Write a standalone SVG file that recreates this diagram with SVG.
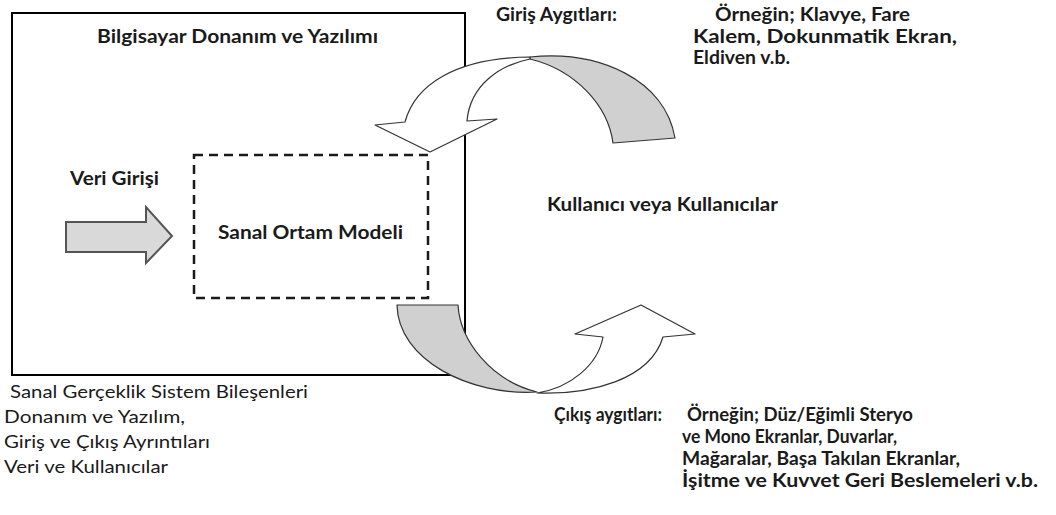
<svg xmlns="http://www.w3.org/2000/svg" width="1056" height="515" viewBox="0 0 1056 515">
<style>
text{font-family:Lato,"Open Sans","Liberation Sans",sans-serif;fill:#1a1a1a}
.b{font-weight:bold;font-size:19px}
.r{font-size:18px}
.box{fill:none;stroke:#000;stroke-width:2}
.dash{fill:none;stroke:#1a1a1a;stroke-width:2.5;stroke-dasharray:9 6}
.cw{fill:#fff;stroke:#333;stroke-width:1.2;stroke-linejoin:round}
.cg{fill:#d0d0d0;stroke:#333;stroke-width:1.2;stroke-linejoin:round}
.blk{fill:#d9d9d9;stroke:#555;stroke-width:2}
</style>
<rect width="1056" height="515" fill="#fff"/>
<g id="bilgisayar">
<rect class="box" x="12" y="13" width="453" height="362"/>
<text class="b" x="97" y="43" textLength="281" lengthAdjust="spacingAndGlyphs">Bilgisayar Donanım ve Yazılımı</text>
</g>
<g id="model">
<rect class="dash" x="194" y="155" width="234" height="143"/>
<text class="b" x="218" y="239" textLength="185" lengthAdjust="spacingAndGlyphs">Sanal Ortam Modeli</text>
</g>
<g id="veri">
<text class="b" x="70" y="185" textLength="89" lengthAdjust="spacingAndGlyphs">Veri Girişi</text>
</g>
<g id="kullanici">
<text class="b" x="547" y="211" textLength="231" lengthAdjust="spacingAndGlyphs">Kullanıcı veya Kullanıcılar</text>
</g>
<g id="giris">
<text class="b" x="496" y="21" textLength="121" lengthAdjust="spacingAndGlyphs">Giriş Aygıtları:</text>
<text class="b" x="715" y="21" textLength="195" lengthAdjust="spacingAndGlyphs">Örneğin; Klavye, Fare</text>
<text class="b" x="693" y="43" textLength="264" lengthAdjust="spacingAndGlyphs">Kalem, Dokunmatik Ekran,</text>
<text class="b" x="693" y="64" textLength="97" lengthAdjust="spacingAndGlyphs">Eldiven v.b.</text>
</g>
<g id="cikis">
<text class="b" x="554" y="421" textLength="108" lengthAdjust="spacingAndGlyphs">Çıkış aygıtları:</text>
<text class="b" x="687" y="421" textLength="226" lengthAdjust="spacingAndGlyphs">Örneğin; Düz/Eğimli Steryo</text>
<text class="b" x="682" y="443" textLength="215" lengthAdjust="spacingAndGlyphs">ve Mono Ekranlar, Duvarlar,</text>
<text class="b" x="682" y="465" textLength="278" lengthAdjust="spacingAndGlyphs">Mağaralar, Başa Takılan Ekranlar,</text>
<text class="b" x="682" y="487" textLength="356" lengthAdjust="spacingAndGlyphs">İşitme ve Kuvvet Geri Beslemeleri v.b.</text>
</g>
<g id="bilesenler">
<text class="r" x="10" y="398" textLength="298" lengthAdjust="spacingAndGlyphs">Sanal Gerçeklik Sistem Bileşenleri</text>
<text class="r" x="4" y="423" textLength="181" lengthAdjust="spacingAndGlyphs">Donanım ve Yazılım,</text>
<text class="r" x="4" y="448" textLength="206" lengthAdjust="spacingAndGlyphs">Giriş ve Çıkış Ayrıntıları</text>
<text class="r" x="4" y="473" textLength="164" lengthAdjust="spacingAndGlyphs">Veri ve Kullanıcılar</text>
</g>
<g id="connectors">
<path class="blk" d="M66,222 L146,222 L146,207 L172,236 L146,263 L146,252 L66,252 Z"/>
<path class="cg" d="M530,57 C600,50 665,80 675,138 L613,143 C608,105 575,70 530,59 Z"/>
<path class="cw" d="M530,57 C455,58 415,85 405,122 L375,125 L430,152 L497,119 L467,121 C470,85 500,65 530,59 Z"/>
<path class="cg" d="M397,305 L458,305 C460,340 490,380 537,392 C470,396 398,360 397,305 Z"/>
<path class="cw" d="M537,393 C590,395 650,380 663,337 L695,334 L641,305 L575,334 L603,337 C598,365 570,388 537,393 Z"/>
</g>
</svg>
